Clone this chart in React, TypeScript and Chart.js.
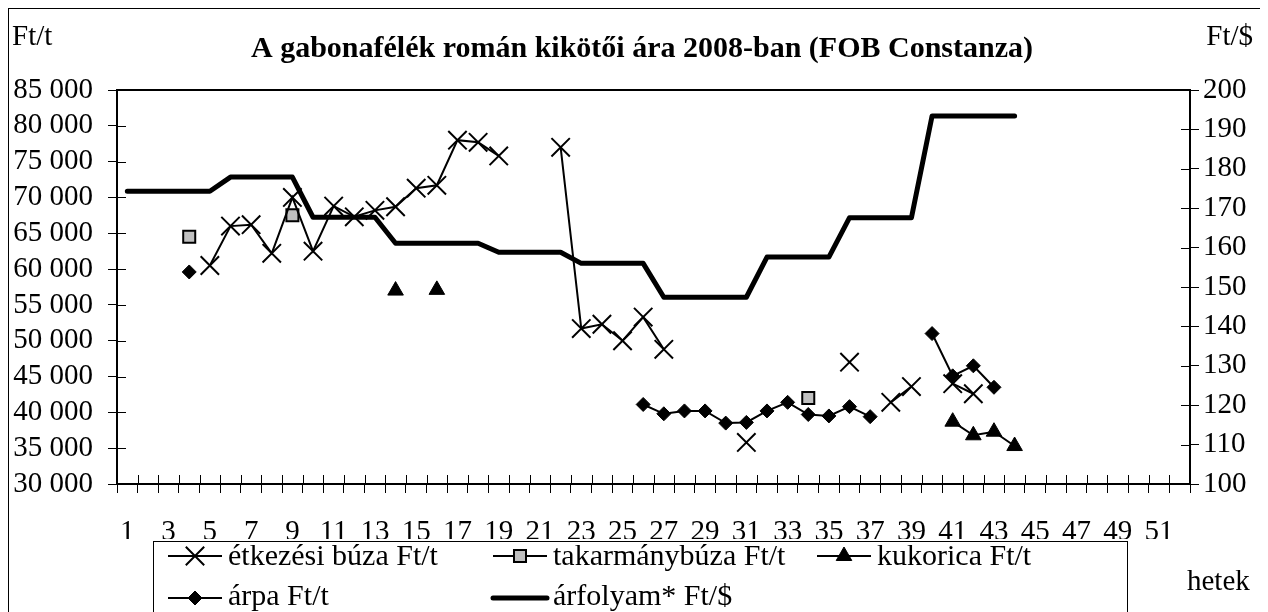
import React, { useEffect, useRef } from 'react';
import { Chart, registerables } from 'chart.js';
import { drawPoint } from 'chart.js/helpers';

Chart.register(...registerables);

const FONT = '"Liberation Serif", "Times New Roman", serif';

const weeks = [
  '1', '2', '3', '4', '5', '6', '7', '8', '9', '10', '11', '12', '13',
  '14', '15', '16', '17', '18', '19', '20', '21', '22', '23', '24', '25', '26',
  '27', '28', '29', '30', '31', '32', '33', '34', '35', '36', '37', '38', '39',
  '40', '41', '42', '43', '44', '45', '46', '47', '48', '49', '50', '51', '52',
];

// Ft/t, left axis
const etkezesiBuza = [
  null, null, null, null, 60500, 66000, 66200, 62200, 70000, 62500, 68800, 67300, 68200,
  68700, 71300, 71700, 78000, 77700, 75800, null, null, 77000, 51700, 52300, 50000, 53300,
  48800, null, null, null, 35800, null, null, null, null, 47000, null, 41400, 43600,
  null, 44000, 42600, null, null, null, null, null, null, null, null, null, null,
];
const takarmanyBuza = [
  null, null, null, 64500, null, null, null, null, 67500, null, null, null, null,
  null, null, null, null, null, null, null, null, null, null, null, null, null,
  null, null, null, null, null, null, null, 42000, null, null, null, null, null,
  null, null, null, null, null, null, null, null, null, null, null, null, null,
];
const kukorica = [
  null, null, null, null, null, null, null, null, null, null, null, null, null,
  57000, null, 57100, null, null, null, null, null, null, null, null, null, null,
  null, null, null, null, null, null, null, null, null, null, null, null, null,
  null, 38700, 36800, 37300, 35300, null, null, null, null, null, null, null, null,
];
const arpa = [
  null, null, null, 59600, null, null, null, null, null, null, null, null, null,
  null, null, null, null, null, null, null, null, null, null, null, null, 41100,
  39800, 40200, 40200, 38500, 38600, 40200, 41400, 39700, 39500, 40800, 39400, null, null,
  51000, 45100, 46500, 43500, null, null, null, null, null, null, null, null, null,
];
// Ft/$, right axis
const arfolyam = [
  174.3, 174.3, 174.3, 174.3, 174.3, 177.9, 177.9, 177.9, 177.9, 167.7, 167.7, 167.7, 167.7,
  161.1, 161.1, 161.1, 161.1, 161.1, 158.8, 158.8, 158.8, 158.8, 156.0, 156.0, 156.0, 156.0,
  147.4, 147.4, 147.4, 147.4, 147.4, 157.6, 157.6, 157.6, 157.6, 167.6, 167.6, 167.6, 167.6,
  193.4, 193.4, 193.4, 193.4, 193.4, null, null, null, null, null, null, null, null,
];

const titleText = 'A gabonafélék román kikötői ára 2008-ban (FOB Constanza)';
const leftUnit = 'Ft/t';
const rightUnit = 'Ft/$';
const xAxisName = 'hetek';

// legend grid: [column, row] for each dataset
const legendSlots = [[0, 0], [1, 0], [2, 0], [0, 1], [1, 1]];

const fmt = (v: number) => String(v).replace(/\B(?=(\d{3})+(?!\d))/g, ' ');

const decorPlugin = {
  id: 'decor',
  afterDraw(chart: any) {
    const ctx = chart.ctx;
    const a = chart.chartArea;
    ctx.save();
    // plot frame
    ctx.strokeStyle = '#000';
    ctx.lineWidth = 2;
    ctx.strokeRect(a.left, a.top, a.right - a.left, a.bottom - a.top);
    // inward tick marks
    ctx.lineWidth = 1;
    ctx.beginPath();
    const n = weeks.length;
    const w = (a.right - a.left) / n;
    for (let i = 0; i <= n; i++) {
      const px = Math.round(a.left + i * w) + 0.5;
      ctx.moveTo(px, a.bottom);
      ctx.lineTo(px, a.bottom - 9);
    }
    const y = chart.scales.y;
    y.ticks.forEach((t: any) => {
      const py = Math.round(y.getPixelForValue(t.value)) + 0.5;
      ctx.moveTo(a.left, py);
      ctx.lineTo(a.left + 9, py);
    });
    const y1 = chart.scales.y1;
    y1.ticks.forEach((t: any) => {
      const py = Math.round(y1.getPixelForValue(t.value)) + 0.5;
      ctx.moveTo(a.right - 9, py);
      ctx.lineTo(a.right, py);
    });
    ctx.stroke();

    // texts
    ctx.fillStyle = '#000';
    ctx.textBaseline = 'alphabetic';
    ctx.font = `bold 30px ${FONT}`;
    ctx.textAlign = 'center';
    ctx.fillText(titleText, 642 - 9, 48);
    ctx.font = `29px ${FONT}`;
    ctx.textAlign = 'left';
    ctx.fillText(leftUnit, 3, 36);
    ctx.textAlign = 'right';
    ctx.fillText(rightUnit, 1244, 36);
    ctx.textAlign = 'left';
    ctx.fillText(xAxisName, 1178, 581);

    // legend
    ctx.lineWidth = 1;
    ctx.strokeStyle = '#000';
    ctx.strokeRect(144.5, 532.5, 974, 120);
    const colX = [159, 484, 808];
    const rowY = [547, 589];
    const textY = [556, 596];
    chart.data.datasets.forEach((ds: any, i: number) => {
      const [c, r] = legendSlots[i];
      const x0 = colX[c];
      const x1 = x0 + 54;
      const yy = rowY[r];
      ctx.strokeStyle = '#000';
      ctx.lineWidth = ds.borderWidth;
      ctx.lineCap = ds.borderWidth > 3 ? 'round' : 'butt';
      ctx.beginPath();
      ctx.moveTo(x0, yy);
      ctx.lineTo(x1, yy);
      ctx.stroke();
      if (ds.pointRadius > 0) {
        ctx.fillStyle = ds.pointBackgroundColor;
        ctx.strokeStyle = ds.pointBorderColor;
        ctx.lineWidth = ds.pointBorderWidth;
        drawPoint(ctx, { pointStyle: ds.pointStyle, radius: ds.pointRadius, rotation: 0, borderWidth: ds.pointBorderWidth }, (x0 + x1) / 2, yy);
      }
      ctx.fillStyle = '#000';
      ctx.font = `30px ${FONT}`;
      ctx.textAlign = 'left';
      ctx.textBaseline = 'alphabetic';
      ctx.fillText(ds.label, x1 + 6, textY[r]);
    });
    ctx.restore();
  },
};

export default function App() {
  const ref = useRef<HTMLCanvasElement>(null);
  useEffect(() => {
    document.documentElement.style.overflow = 'hidden';
    document.body.style.overflow = 'hidden';
    const canvas = ref.current!;
    const tickFont = { family: FONT, size: 29 };
    const chart = new Chart(canvas, {
      type: 'line',
      data: {
        labels: weeks,
        datasets: [
          {
            label: 'étkezési búza Ft/t', data: etkezesiBuza, yAxisID: 'y',
            borderColor: '#000', borderWidth: 2, pointStyle: 'crossRot', pointRadius: 13,
            pointBorderWidth: 2, pointBorderColor: '#000', pointBackgroundColor: '#000',
            spanGaps: false, tension: 0,
          },
          {
            label: 'takarmánybúza Ft/t', data: takarmanyBuza, yAxisID: 'y',
            borderColor: '#000', borderWidth: 2, pointStyle: 'rect', pointRadius: 8.5,
            pointBorderWidth: 2, pointBorderColor: '#000', pointBackgroundColor: '#c0c0c0',
            spanGaps: false, tension: 0,
          },
          {
            label: 'kukorica Ft/t', data: kukorica, yAxisID: 'y',
            borderColor: '#000', borderWidth: 2, pointStyle: 'triangle', pointRadius: 9,
            pointBorderWidth: 1, pointBorderColor: '#000', pointBackgroundColor: '#000',
            spanGaps: false, tension: 0,
          },
          {
            label: 'árpa Ft/t', data: arpa, yAxisID: 'y',
            borderColor: '#000', borderWidth: 2, pointStyle: 'rectRot', pointRadius: 7,
            pointBorderWidth: 1, pointBorderColor: '#000', pointBackgroundColor: '#000',
            spanGaps: false, tension: 0,
          },
          {
            label: 'árfolyam* Ft/$', data: arfolyam, yAxisID: 'y1',
            borderColor: '#000', borderWidth: 5, pointRadius: 0, pointBorderWidth: 0,
            pointBackgroundColor: '#000', pointBorderColor: '#000',
            borderCapStyle: 'round', borderJoinStyle: 'round',
            spanGaps: false, tension: 0,
          },
        ],
      },
      options: {
        responsive: false,
        animation: false,
        events: [],
        layout: { padding: { top: 81, bottom: 74, left: 0, right: 0 } },
        plugins: { legend: { display: false }, title: { display: false }, tooltip: { enabled: false } },
        scales: {
          x: {
            type: 'category', offset: true,
            grid: { display: true, drawOnChartArea: false, drawTicks: true, tickLength: 9, color: '#000', offset: true, lineWidth: 1 },
            border: { display: true, color: '#000', width: 2 },
            ticks: {
              autoSkip: false, maxRotation: 0, minRotation: 0, padding: 22, color: '#000', font: tickFont,
              callback: (_v: any, i: number) => (i % 2 === 0 ? weeks[i] : ''),
            },
            afterFit: (s: any) => { s.height = 55; },
          },
          y: {
            position: 'left', min: 30000, max: 85000,
            grid: { drawOnChartArea: false, tickLength: 9, color: '#000', lineWidth: 1 },
            border: { display: true, color: '#000', width: 2 },
            ticks: { stepSize: 5000, autoSkip: false, padding: 15, color: '#000', font: tickFont, callback: (v: any) => fmt(v) },
            afterFit: (s: any) => { s.width = 108; },
          },
          y1: {
            position: 'right', min: 100, max: 200,
            grid: { drawOnChartArea: false, tickLength: 9, color: '#000', lineWidth: 1 },
            border: { display: true, color: '#000', width: 2 },
            ticks: { stepSize: 10, autoSkip: false, padding: 4, color: '#000', font: tickFont },
            afterFit: (s: any) => { s.width = 71; },
          },
        },
      } as any,
      plugins: [decorPlugin],
    });
    return () => chart.destroy();
  }, []);
  return (
    <div style={{ position: 'relative', width: 1252, height: 604, border: '1px solid #000' }}>
      <canvas ref={ref} width={1252} height={604} style={{ display: 'block' }} />
    </div>
  );
}
